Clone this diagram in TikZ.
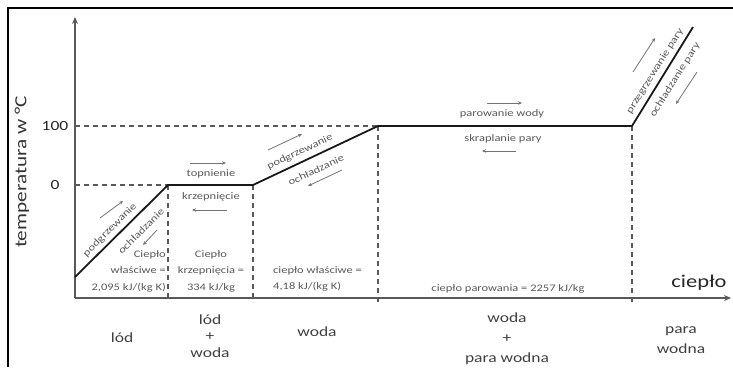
\documentclass[tikz,border=0pt]{standalone}
\usepackage{fontspec}
\setmainfont{Carlito}[FakeStretch=1.25]
\usetikzlibrary{arrows.meta}
\begin{document}
\begin{tikzpicture}[x=1pt,y=-1pt,
  lbl/.style={text=black!65, font=\fontsize{10}{16.5}\selectfont, inner sep=0pt},
  big/.style={text=black!75, font=\fontsize{14}{16.5}\selectfont, inner sep=0pt, align=center},
  tick/.style={text=black!85, font=\fontsize{14}{16}\selectfont, inner sep=0pt},
  curve/.style={line width=1.8pt, black!90},
  guide/.style={dash pattern=on 5pt off 4pt, line width=1.4pt, black!65},
  dir/.style={black!55, line width=0.8pt, -{Stealth[length=4pt,width=3.5pt]}},
  axis/.style={line width=2pt, black!65, -{Stealth[length=7pt,width=6pt]}},
  frame/.style={line width=1.3pt, black}]
\useasboundingbox (0,0) rectangle (733,367);
% frame
\coordinate (fb) at (8,367);
\coordinate (fc) at (8,8);
\coordinate (fr) at (733,8);
\draw[frame] (fb) -- (fc) -- (fr);
% axes
\coordinate (O) at (75,298);
\coordinate (Ytop) at (75,17);
\coordinate (Xend) at (731,298);
\draw[axis] (O) -- (Ytop);
\draw[axis] (O) -- (Xend);
% curve points
\coordinate (A) at (75,277);
\coordinate (B) at (168,185);
\coordinate (C) at (253,185);
\coordinate (D) at (378,126);
\coordinate (E) at (632,126);
\coordinate (F) at (693,27);
% guides
\coordinate (y100) at (75,126);
\coordinate (y0) at (75,185);
\coordinate (bB) at (168,302);
\coordinate (bC) at (253,302);
\coordinate (bD) at (378,302);
\coordinate (bE) at (632,302);
\draw[guide] (y100) -- (D);
\draw[guide] (y0) -- (B);
\draw[guide] (B) -- (bB);
\draw[guide] (C) -- (bC);
\draw[guide] (D) -- (bD);
\draw[guide] (E) -- (bE);
\draw[curve, line join=round] (A) -- (B) -- (C) -- (D) -- (E) -- (F);
% axis labels
\node[tick] (t100) at (55,126) {100};
\node[tick] (t0) at (55,185) {0};
\node[text=black!80, font=\fontsize{17}{20}\selectfont, rotate=90, inner sep=0pt] (ylab) at (22,172) {temperatura w °C};
\node[text=black!85, font=\fontsize{18}{20}\selectfont, inner sep=0pt] (xlab) at (699,283) {ciepło};
% slope 1
\node[lbl, rotate=45] (p1) at (110,230) {podgrzewanie};
\coordinate (p1a) at (100,218); \coordinate (p1b) at (123,201);
\draw[dir] (p1a) -- (p1b);
\node[lbl, rotate=45] (o1) at (141,231) {ochładzanie};
\coordinate (o1a) at (157,230); \coordinate (o1b) at (143,245);
\draw[dir] (o1a) -- (o1b);
% plateau 1
\node[lbl] (top) at (211,174) {topnienie};
\coordinate (ta) at (190,163); \coordinate (tb) at (226,163);
\draw[dir] (ta) -- (tb);
\node[lbl] (krz) at (211,197) {krzepnięcie};
\coordinate (ka) at (227,210); \coordinate (kb) at (192,210);
\draw[dir] (ka) -- (kb);
% slope 2
\node[lbl, rotate=25] (p2) at (300,152) {podgrzewanie};
\coordinate (p2a) at (268,150); \coordinate (p2b) at (302,134);
\draw[dir] (p2a) -- (p2b);
\node[lbl, rotate=25] (o2) at (316,170) {ochładzanie};
\coordinate (o2a) at (342,170); \coordinate (o2b) at (308,186);
\draw[dir] (o2a) -- (o2b);
% plateau 2
\node[lbl] (par) at (502,114) {parowanie wody};
\coordinate (pa) at (487,103); \coordinate (pb) at (522,103);
\draw[dir] (pa) -- (pb);
\node[lbl] (skr) at (503,139) {skraplanie pary};
\coordinate (sa) at (516,151); \coordinate (sb) at (482,151);
\draw[dir] (sa) -- (sb);
% slope 3
\node[lbl, rotate=58] (p3) at (655,71) {przegrzewanie pary};
\coordinate (p3a) at (633,72); \coordinate (p3b) at (655,38);
\draw[dir] (p3a) -- (p3b);
\node[lbl, rotate=58] (o3) at (675,80) {ochładzanie pary};
\coordinate (o3a) at (697,72); \coordinate (o3b) at (676,104);
\draw[dir] (o3a) -- (o3b);
% heat texts
\node[lbl, align=right, anchor=north east] (c1) at (166,250) {Ciepło\\właściwe =\\2,095 kJ/(kg K)};
\node[lbl, align=center, anchor=north] (c2) at (211,250) {Ciepło\\krzepnięcia =\\334 kJ/kg};
\node[lbl, align=left, anchor=north west] (c3) at (273,266) {ciepło właściwe =\\4,18 kJ/(kg K)};
\node[lbl] (c4) at (508,289) {ciepło parowania = 2257 kJ/kg};
% phase labels
\node[big] (ph1) at (122,338) {lód};
\node[big] (ph2) at (210,336) {lód\\+\\woda};
\node[big] (ph3) at (317,332) {woda};
\node[big, font=\fontsize{14}{20}\selectfont] (ph4) at (507,339) {woda\\+\\para wodna};
\node[big, font=\fontsize{14}{20}\selectfont] (ph5) at (681,340) {para\\wodna};
\end{tikzpicture}
\end{document}
